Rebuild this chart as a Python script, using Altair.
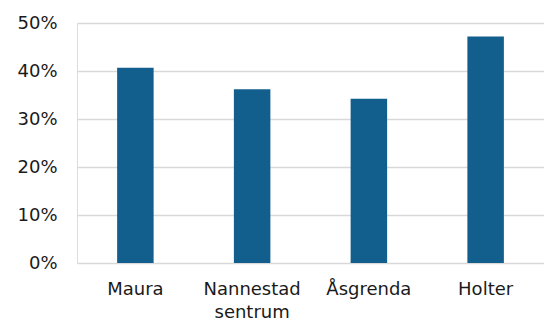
import altair as alt
import pandas as pd

categories = ["Maura", "Nannestad sentrum", "Åsgrenda", "Holter"]
values = [0.407, 0.362, 0.342, 0.472]
y_ticks = [0, 0.1, 0.2, 0.3, 0.4, 0.5]

df = pd.DataFrame({"omrade": categories, "andel": values})

FONT = "DejaVu Sans"

chart = (
    alt.Chart(df)
    .mark_bar(color="#125f8e", width=36.5)
    .encode(
        x=alt.X(
            "omrade:N",
            sort=categories,
            title=None,
            scale=alt.Scale(paddingInner=0.0, paddingOuter=0.0),
            axis=alt.Axis(
                labelAngle=0,
                labelFont=FONT,
                labelFontSize=18,
                labelColor="#1a1a1a",
                labelPadding=17,
                labelLineHeight=23,
                labelExpr="datum.label == 'Nannestad sentrum' ? ['Nannestad', 'sentrum'] : datum.label",
                ticks=False,
                domain=False,
                grid=False,
            ),
        ),
        y=alt.Y(
            "andel:Q",
            title=None,
            scale=alt.Scale(domain=[0, 0.5], nice=False),
            axis=alt.Axis(
                values=y_ticks,
                format=".0%",
                labelFont=FONT,
                labelFontSize=18,
                labelColor="#1a1a1a",
                labelPadding=20,
                ticks=False,
                domain=False,
                grid=True,
                gridColor="#d9d9d9",
                gridWidth=1.5,
            ),
        ),
    )
    .properties(
        width=467,
        height=240,
        autosize=alt.AutoSizeParams(type="none"),
        padding={"left": 77, "top": 23, "right": 0, "bottom": 60},
    )
    .configure_view(stroke=None)
    .configure(background="white")
)

chart.save("out.html", embed_options={"renderer": "svg", "actions": False})
